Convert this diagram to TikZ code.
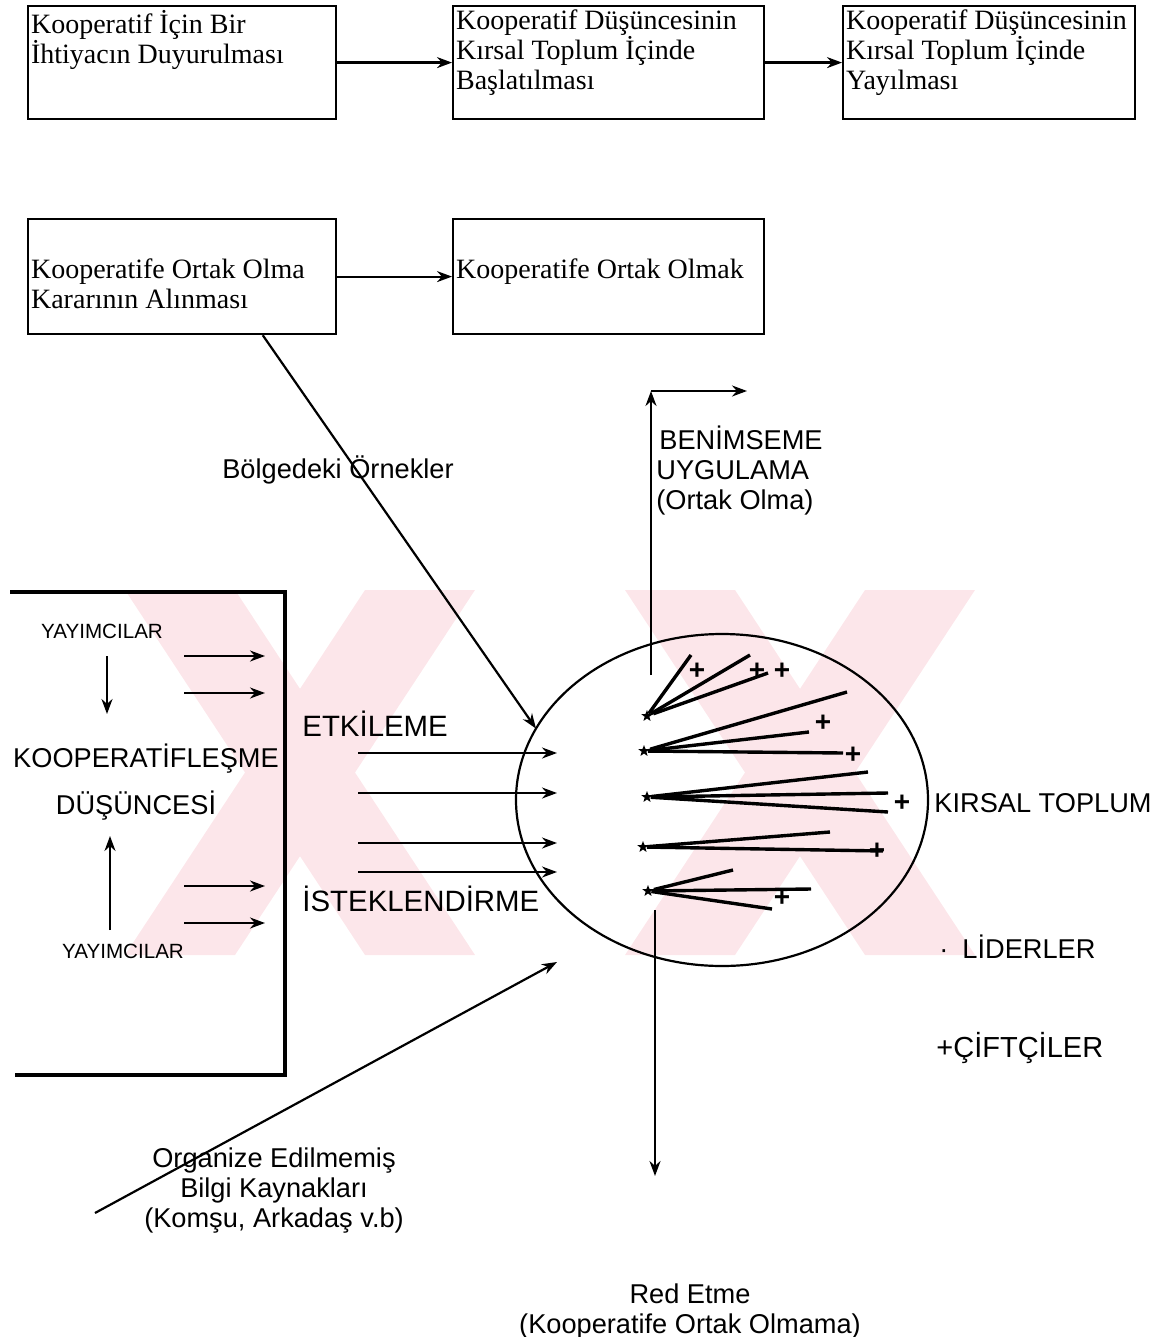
\documentclass[tikz,border=0pt]{standalone}
\usepackage{fontspec}
\setmainfont{Liberation Serif}
\setsansfont{Liberation Sans}
\usetikzlibrary{arrows.meta,shapes.geometric,calc}
\definecolor{filigran}{RGB}{252,230,234}
\newcommand{\kutumetin}[3]{\parbox[t][#1][t]{#2}{\raggedright #3}}
\tikzset{
  kutu/.style={draw, line width=1.1pt, anchor=north west, inner xsep=1.5pt, inner ysep=2pt,
    font=\fontsize{14}{15}\selectfont},
  ok/.style={-{Stealth[length=7.5pt,width=5.5pt]}, line width=1.1pt},
  etiket/.style={font=\sffamily\fontsize{13.6}{15}\selectfont, inner sep=0pt},
  buyuk/.style={font=\sffamily\fontsize{14.7}{16}\selectfont, inner sep=0pt, anchor=west},
  kucuk/.style={font=\sffamily\fontsize{10.3}{12}\selectfont, inner sep=0pt},
  lider/.style={star, star points=5, star point ratio=2.4, fill, inner sep=0pt, minimum size=6pt},
  ciftci/.style={font=\sffamily\bfseries\fontsize{14}{14}\selectfont, inner sep=0pt},
  isin/.style={line width=1.7pt}
}
\begin{document}
\begin{tikzpicture}[x=0.5pt,y=-0.5pt]
\useasboundingbox (0,0) rectangle (1171,1337);

% filigran
\foreach \m in {300,800} {
  \fill[filigran] (\m-175,590) -- (\m-65,590) -- (\m+175,955) -- (\m+65,955) -- cycle;
  \fill[filigran] (\m+65,590) -- (\m+175,590) -- (\m-65,955) -- (\m-175,955) -- cycle;
}

% ust sira kutular
\node[kutu] (k1) at (27,5) {\kutumetin{52.5pt}{151pt}{Kooperatif İçin Bir\\İhtiyacın Duyurulması}};
\node[kutu] (k2) at (452,5) {\kutumetin{52.5pt}{152.5pt}{Kooperatif Düşüncesinin\\Kırsal Toplum İçinde\\Başlatılması}};
\node[kutu] (k3) at (842,5) {\kutumetin{52.5pt}{143pt}{Kooperatif Düşüncesinin\\Kırsal Toplum İçinde\\Yayılması}};
\draw[ok] (k1.east) -- (k2.west);
\draw[ok] (k2.east) -- (k3.west);

\node[kutu] (k4) at (27,218) {\kutumetin{53.5pt}{151pt}{\vspace*{18pt}Kooperatife Ortak Olma\\Kararının Alınması}};
\node[kutu] (k5) at (452,218) {\kutumetin{53.5pt}{152.5pt}{\vspace*{18pt}Kooperatife Ortak Olmak}};
\draw[ok] (k4.east) -- (k5.west);

% kirsal toplum
\node[ellipse, draw, line width=1.1pt, minimum width=206pt, minimum height=166pt,
  inner sep=0pt, outer sep=0pt] (toplum) at (722,800) {};

\coordinate (ornek) at ($(k4.south west)!0.76!(k4.south east)$);
\draw[ok] (ornek) -- (toplum.159);
\node[etiket] (bolge) at (338,470) {Bölgedeki Örnekler};

% kooperatifleşme düşüncesi
\draw[line width=2pt] (10,592) -- (285,592) -- (285,1075) -- (15,1075);
\node[kucuk] (yay1) at (102,631) {YAYIMCILAR};
\node[etiket] (koop) at (146,759) {KOOPERATİFLEŞME};
\node[etiket] (dus) at (136,806) {DÜŞÜNCESİ};
\node[kucuk] (yay2) at (123,951) {YAYIMCILAR};
\coordinate (a1) at (107,656);
\coordinate (a2) at (107,714);
\coordinate (a3) at (110,930);
\coordinate (a4) at (110,836);
\draw[ok] (a1) -- (a2);
\draw[ok] (a3) -- (a4);
\foreach \y [count=\i] in {656,693,886,923} {
  \coordinate (s\i) at (184,\y);
  \coordinate (t\i) at (265,\y);
  \draw[ok] (s\i) -- (t\i);
}

\node[buyuk] (etki) at (302,724) {ETKİLEME};
\node[buyuk] (istek) at (302,899) {İSTEKLENDİRME};
\foreach \y [count=\i] in {753,793,843,872} {
  \coordinate (e\i) at (358,\y);
  \coordinate (f\i) at (557,\y);
  \draw[ok] (e\i) -- (f\i);
}

% liderler ve ciftciler
\node[lider] (l1) at (647,716) {};
\node[lider] (l2) at (644,751) {};
\node[lider] (l3) at (647,797) {};
\node[lider] (l4) at (643,847) {};
\node[lider] (l5) at (648,891) {};
\foreach \x/\y in {691/655,750/655,768/673} \draw[isin] (l1) -- (\x,\y);
\foreach \x/\y in {847/692,809/732,843/753} \draw[isin] (l2) -- (\x,\y);
\foreach \x/\y in {868/772,888/793,888/812} \draw[isin] (l3) -- (\x,\y);
\foreach \x/\y in {830/832,883/851} \draw[isin] (l4) -- (\x,\y);
\foreach \x/\y in {733/870,811/889,772/909} \draw[isin] (l5) -- (\x,\y);
\foreach \x/\y [count=\i] in {697/671,757/671,782/671,823/723,853/755,902/803,877/851,782/898}
  \node[ciftci] (c\i) at (\x,\y) {+};

% benimseme ve red
\coordinate (kabul) at (651,675);
\coordinate (kose) at (651,391);
\coordinate (kabuluc) at (747,391);
\draw[ok] (kabul) -- (kose);
\draw[ok] (kose) -- (kabuluc);
\node[etiket, anchor=north west, align=left] (benim) at (656,425) {\hspace{1.5pt}BENİMSEME\\UYGULAMA\\(Ortak Olma)};

\coordinate (red) at (655,910);
\coordinate (redalt) at (655,1176);
\draw[ok] (red) -- (redalt);
\node[etiket, align=center] (redet) at (690,1311) {Red Etme\\(Kooperatife Ortak Olmama)};

\coordinate (bilgi1) at (95,1213);
\coordinate (bilgi2) at (557,962);
\draw[ok] (bilgi1) -- (bilgi2);
\node[etiket, align=center] (bilgi) at (274,1191) {Organize Edilmemiş\\Bilgi Kaynakları\\(Komşu, Arkadaş v.b)};

% aciklama
\node[etiket, anchor=west] (kirsal) at (934,803) {KIRSAL TOPLUM};
\node[etiket, anchor=west] (lid) at (939,947) {·\hspace{7pt}LİDERLER};
\node[etiket, anchor=west, font=\sffamily\fontsize{14.5}{16}\selectfont] (cif) at (936,1048) {+ÇİFTÇİLER};
\end{tikzpicture}
\end{document}
